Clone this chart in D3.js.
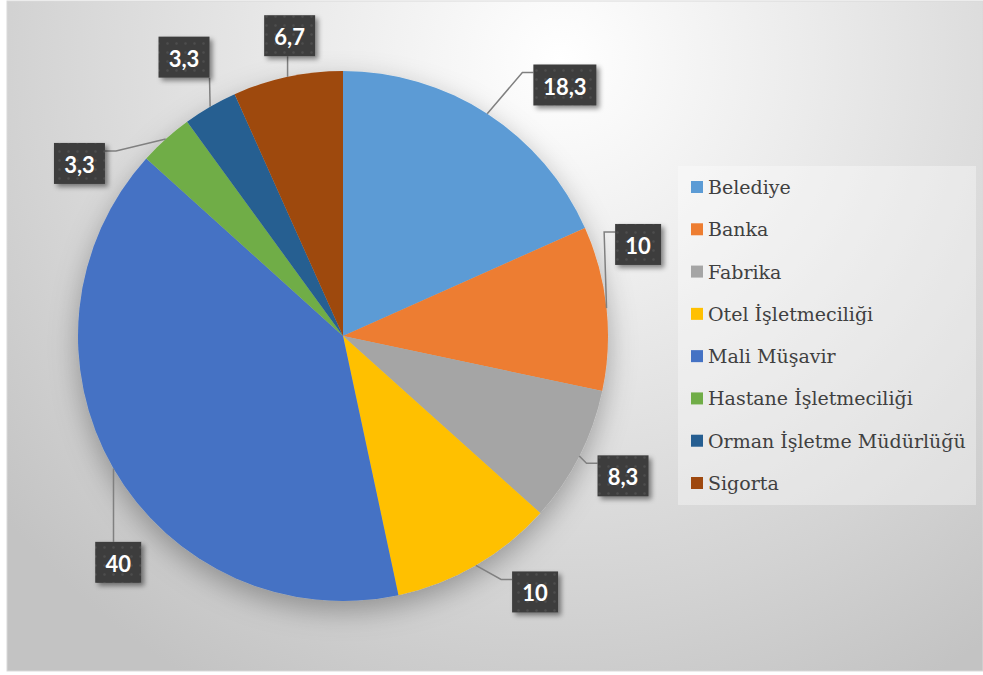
<!DOCTYPE html>
<html>
<head>
<meta charset="utf-8">
<script src="https://cdn.jsdelivr.net/npm/d3@7"></script>
<style>
  body { margin: 0; background: #fff; }
  svg { display: block; }
  .legend-text { font-family: "DejaVu Serif", serif; font-size: 19px; }
</style>
</head>
<body>
<svg id="chart" width="983" height="675"></svg>
<script>
// data
const categories = ["Belediye", "Banka", "Fabrika", "Otel İşletmeciliği", "Mali Müşavir",
  "Hastane İşletmeciliği", "Orman İşletme Müdürlüğü", "Sigorta"];
const values = [18.3, 10, 8.3, 10, 40, 3.3, 3.3, 6.7];
const colors = ["#5B9BD5", "#ED7D31", "#A5A5A5", "#FFC000", "#4472C4", "#70AD47", "#255E91", "#9E480E"];

// where the label boxes sit: shift from slice middle (deg) and distance from centre
const labelShift = [8.5, -11.2, -0.4, -6.8, -15.2, -14.8, 0.4, 2.0];
const labelDist = [335, 309, 313, 320, 319, 315, 321, 305];

const width = 983, height = 675;
const cx = 343, cy = 336, radius = 265;

const svg = d3.select("#chart");
const defs = svg.append("defs");

const bg = defs.append("radialGradient")
  .attr("id", "bg")
  .attr("gradientUnits", "userSpaceOnUse")
  .attr("cx", 560).attr("cy", 60).attr("r", 720);
bg.append("stop").attr("offset", 0).attr("stop-color", "#ffffff");
bg.append("stop").attr("offset", 0.35).attr("stop-color", "#ebebeb");
bg.append("stop").attr("offset", 0.75).attr("stop-color", "#d3d3d3");
bg.append("stop").attr("offset", 1).attr("stop-color", "#c3c3c3");

const dots = defs.append("pattern")
  .attr("id", "dots")
  .attr("patternUnits", "userSpaceOnUse")
  .attr("width", 9).attr("height", 9);
dots.append("rect").attr("width", 9).attr("height", 9).attr("fill", "#3d3d3d");
dots.append("circle").attr("cx", 4.5).attr("cy", 4.5).attr("r", 1.3).attr("fill", "#4d4d4d");

const pieShadow = defs.append("filter").attr("id", "pieShadow")
  .attr("x", "-20%").attr("y", "-20%").attr("width", "140%").attr("height", "140%");
pieShadow.append("feDropShadow")
  .attr("dx", 0).attr("dy", 10).attr("stdDeviation", 14)
  .attr("flood-color", "#000").attr("flood-opacity", 0.3);

const boxShadow = defs.append("filter").attr("id", "boxShadow")
  .attr("x", "-30%").attr("y", "-30%").attr("width", "160%").attr("height", "160%");
boxShadow.append("feDropShadow")
  .attr("dx", 3).attr("dy", 3).attr("stdDeviation", 2.5)
  .attr("flood-color", "#000").attr("flood-opacity", 0.45);

// chart area
svg.append("rect")
  .attr("x", 7).attr("y", 1)
  .attr("width", width - 7).attr("height", 670)
  .attr("fill", "url(#bg)")
  .attr("stroke", "#d9d9d9").attr("stroke-width", 1);

const pie = d3.pie().sort(null).value(d => d);
const arcs = pie(values);
const arc = d3.arc().innerRadius(0).outerRadius(radius);

const g = svg.append("g").attr("transform", `translate(${cx},${cy})`);

g.append("g")
  .attr("filter", "url(#pieShadow)")
  .selectAll("path")
  .data(arcs)
  .join("path")
  .attr("d", arc)
  .attr("fill", (d, i) => colors[i]);

const fmt = d3.formatLocale({ decimal: ",", thousands: ".", grouping: [3], currency: ["", ""] }).format("~g");

function polar(angle, r) {
  return [r * Math.sin(angle), -r * Math.cos(angle)];
}

const labels = g.append("g");

arcs.forEach((d, i) => {
  const mid = (d.startAngle + d.endAngle) / 2;
  const anchor = polar(mid, radius);
  const c = polar(mid + labelShift[i] * Math.PI / 180, labelDist[i]);

  const lab = labels.append("g");
  const line = lab.append("polyline")
    .attr("fill", "none")
    .attr("stroke", "#808080")
    .attr("stroke-width", 1.5);
  const box = lab.append("rect")
    .attr("fill", "url(#dots)")
    .attr("filter", "url(#boxShadow)");
  const txt = lab.append("text")
    .attr("x", c[0]).attr("y", c[1] + 1)
    .attr("text-anchor", "middle")
    .attr("dominant-baseline", "central")
    .attr("fill", "#fff")
    .style("font-family", "Lato, 'Open Sans', sans-serif")
    .style("font-weight", 700)
    .style("font-size", "22px")
    .text(fmt(values[i]));

  const tw = txt.node().getComputedTextLength();
  const bw = Math.round(tw + 20), bh = 41;
  const x0 = c[0] - bw / 2, x1 = c[0] + bw / 2;
  const y0 = c[1] - bh / 2, y1 = c[1] + bh / 2;
  box.attr("x", x0).attr("y", y0).attr("width", bw).attr("height", bh);

  let pts;
  if (anchor[0] < x0 - 5) {
    pts = [anchor, [x0 - 11, y0 + 8], [x0, y0 + 8]];
  } else if (anchor[0] > x1 + 5) {
    pts = [anchor, [x1 + 11, y0 + 8], [x1, y0 + 8]];
  } else {
    const ax = Math.max(x0, Math.min(x1, anchor[0]));
    pts = [anchor, [ax, anchor[1] < y0 ? y0 : y1]];
  }
  line.attr("points", pts.map(p => p.join(",")).join(" "));
});

// legend
const legend = svg.append("g");
legend.append("rect")
  .attr("x", 678).attr("y", 166)
  .attr("width", 298).attr("height", 339)
  .attr("fill", "#fff").attr("fill-opacity", 0.35);

const ly = d3.scalePoint().domain(categories).range([187, 483]);

const item = legend.selectAll("g.item")
  .data(categories)
  .join("g")
  .attr("class", "item")
  .attr("transform", d => `translate(691,${ly(d)})`);

item.append("rect")
  .attr("x", 0).attr("y", -6)
  .attr("width", 12).attr("height", 12)
  .attr("fill", (d, i) => colors[i]);

item.append("text")
  .attr("class", "legend-text")
  .attr("x", 17).attr("y", 7)
  .attr("fill", "#404040")
  .text(d => d);
</script>
</body>
</html>
